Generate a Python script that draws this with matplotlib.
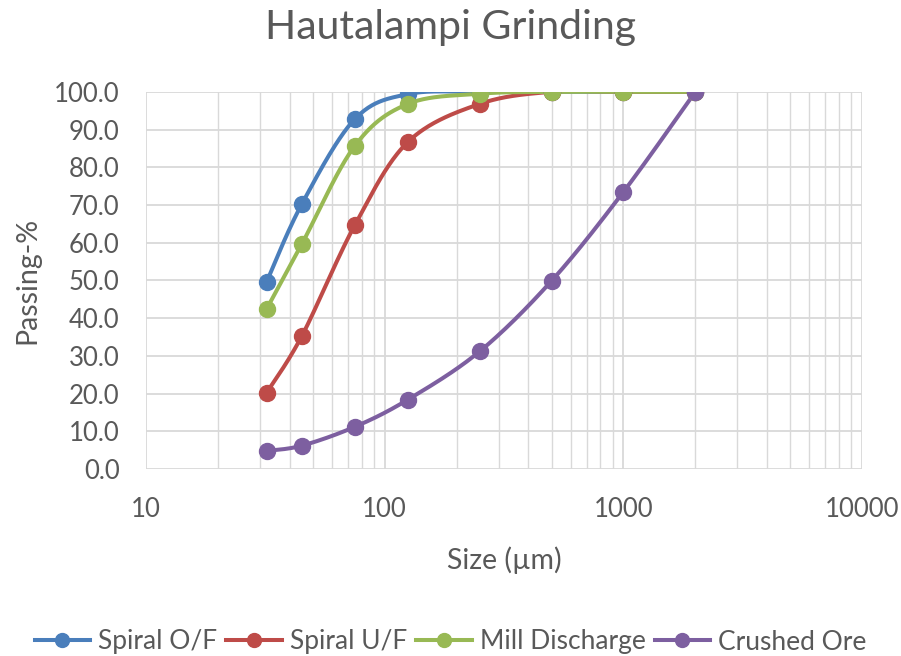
import numpy as np
import matplotlib
matplotlib.use("Agg")
import matplotlib.pyplot as plt
from matplotlib.lines import Line2D
from matplotlib.ticker import LogLocator, NullFormatter

plt.rcParams['font.family'] = ['Lato', 'DejaVu Sans']

sizes = [32, 45, 75, 125, 250, 500, 1000, 2000]
spiral_of = [49.6, 70.3, 92.8, 99.4, 100.0, 100.0, 100.0, 100.0]
spiral_uf = [20.2, 35.3, 64.7, 86.7, 96.8, 100.0, 100.0, 100.0]
mill_discharge = [42.4, 59.7, 85.7, 96.8, 99.5, 100.0, 100.0, 100.0]
crushed_ore = [4.8, 6.2, 11.2, 18.4, 31.2, 49.9, 73.5, 100.0]

series_names = ["Spiral O/F", "Spiral U/F", "Mill Discharge", "Crushed Ore"]
series_values = [spiral_of, spiral_uf, mill_discharge, crushed_ore]
colors = ["#4a7ebb", "#be4b48", "#98b954", "#7d5fa0"]
y_ticks = [0, 10, 20, 30, 40, 50, 60, 70, 80, 90, 100]
x_ticks = [10, 100, 1000, 10000]

TEXT = "#595959"
GRID = "#d9d9d9"


def smooth_curve(xs, ys, n=40):
    """Bezier smoothing through the points, worked out in (log x, y) space
    scaled so both directions are comparable on screen."""
    px = np.log10(xs) * 238.7
    py = np.asarray(ys, float) * 3.77
    pts = np.column_stack([px, py])
    out = [pts[0]]
    m = len(pts)
    for i in range(m - 1):
        p0 = pts[i - 1] if i > 0 else pts[i]
        p1 = pts[i]
        p2 = pts[i + 1]
        p3 = pts[i + 2] if i + 2 < m else pts[i + 1]
        c1 = p1 + (p2 - p0) / 6.0
        c2 = p2 - (p3 - p1) / 6.0
        t = np.linspace(0, 1, n)[1:, None]
        seg = ((1 - t) ** 3) * p1 + 3 * ((1 - t) ** 2) * t * c1 \
            + 3 * (1 - t) * t ** 2 * c2 + t ** 3 * p2
        out.extend(seg)
    out = np.array(out)
    return 10 ** (out[:, 0] / 238.7), out[:, 1] / 3.77


fig = plt.figure(figsize=(9.01, 6.56), dpi=100)
ax = fig.add_axes([0.162, 0.285, 0.795, 0.575])

for name, vals, c in zip(series_names, series_values, colors):
    sx, sy = smooth_curve(sizes, vals)
    ax.plot(sx, sy, color=c, lw=2.9, solid_capstyle='round', zorder=3)
    ax.plot(sizes, vals, 'o', color=c, ms=11.5, zorder=4)

ax.set_xscale('log')
ax.set_xlim(10, 10000)
ax.set_ylim(0, 100)
ax.set_yticks(y_ticks)
ax.set_yticklabels([f"{v:.1f}" for v in y_ticks])
ax.set_xticks(x_ticks)
ax.set_xticklabels([str(v) for v in x_ticks])
ax.xaxis.set_minor_locator(LogLocator(base=10, subs=np.arange(2, 10)))
ax.xaxis.set_minor_formatter(NullFormatter())

ax.grid(True, which='major', color=GRID, lw=1.3, zorder=0)
ax.grid(True, which='minor', axis='x', color=GRID, lw=1.0, zorder=0)
ax.set_axisbelow(True)
for s in ax.spines.values():
    s.set_visible(False)
ax.tick_params(which='both', length=0, colors=TEXT, labelsize=18.5)
ax.tick_params(axis='x', pad=20)
ax.tick_params(axis='y', pad=19)

ax.set_xlabel("Size (µm)", color=TEXT, fontsize=20.5, labelpad=18)
ax.set_ylabel("Passing-%", color=TEXT, fontsize=20.5, labelpad=10)
fig.text(0.5, 1 - 28 / 656, "Hautalampi Grinding", color=TEXT, fontsize=29.5,
         ha='center', va='center')

handles = [Line2D([0], [0], color=c, lw=2.9, marker='o', ms=10) for c in colors]
fig.legend(handles, series_names, loc='center', bbox_to_anchor=(0.5, 1 - 642 / 656), ncol=4,
           frameon=False, fontsize=19, labelcolor=TEXT, handlelength=2.1,
           handletextpad=0.3, columnspacing=0.35, borderpad=0, borderaxespad=0)

fig.savefig("out.png", dpi=100, facecolor='white')
